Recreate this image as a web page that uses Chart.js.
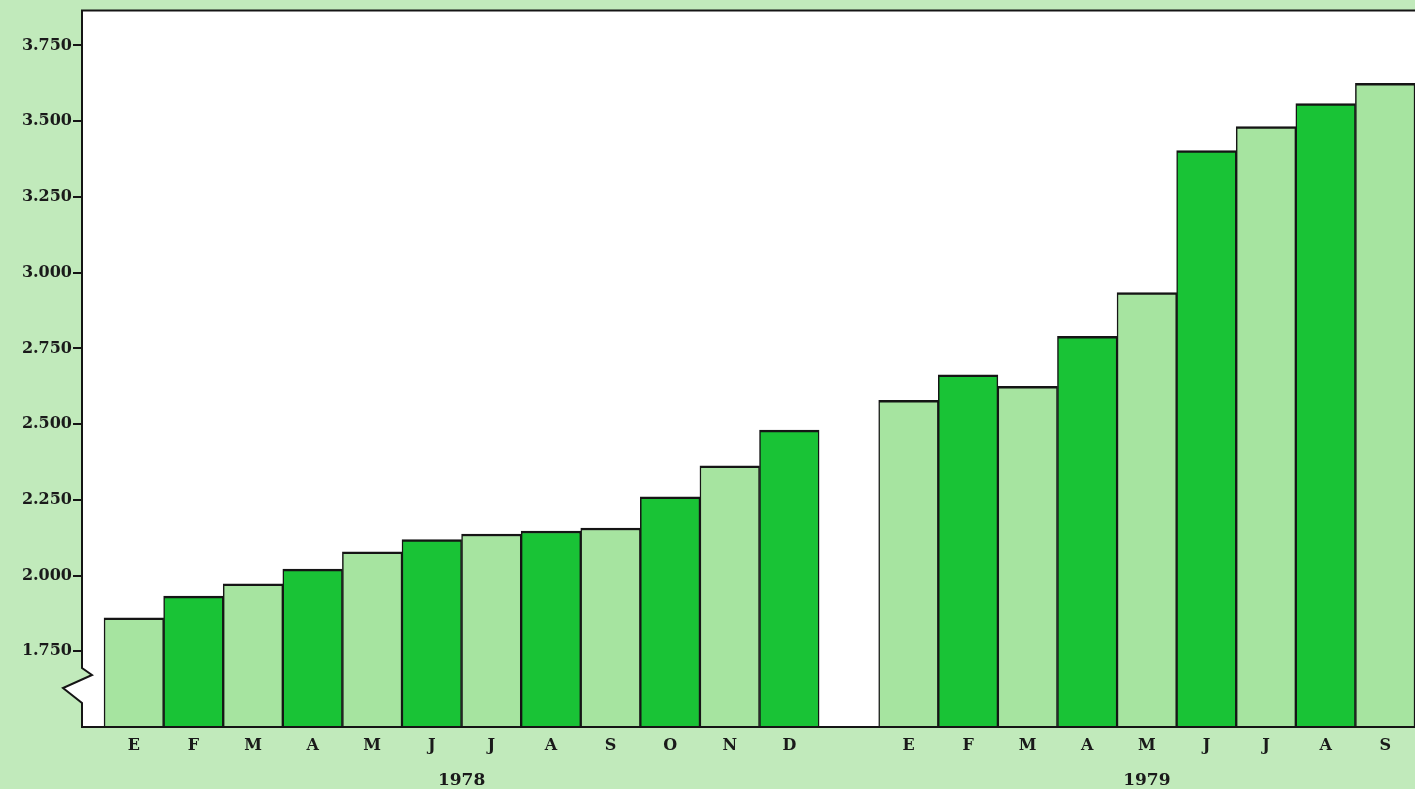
<!DOCTYPE html>
<html>
<head>
<meta charset="utf-8">
<script src="https://cdn.jsdelivr.net/npm/chart.js@4/dist/chart.umd.min.js"></script>
<style>
  html, body { margin: 0; padding: 0; background: #c1eabb; }
  #wrap { width: 1415px; height: 789px; position: relative; }
</style>
</head>
<body>
<div id="wrap"><canvas id="grafico"></canvas></div>
<script>
// datos
const meses1978 = ["E", "F", "M", "A", "M", "J", "J", "A", "S", "O", "N", "D"];
const valores1978 = [1860, 1932, 1973, 2021, 2078, 2119, 2137, 2147, 2157, 2260, 2362, 2480];
const meses1979 = ["E", "F", "M", "A", "M", "J", "J", "A", "S"];
const valores1979 = [2578, 2663, 2625, 2790, 2934, 3403, 3482, 3558, 3625];
const anios = ["1978", "1979"];
const ticksY = [1750, 2000, 2250, 2500, 2750, 3000, 3250, 3500, 3750];

const verdeClaro = "#a6e4a0";
const verdeOscuro = "#19c336";

// posiciones en el eje x: 1978 ocupa 0..11, hueco en 12, 1979 en 13..21
const etiquetas = {};
const puntos = [];
const colores = [];
meses1978.forEach((m, i) => {
  etiquetas[i] = m;
  puntos.push({ x: i, y: valores1978[i] });
  colores.push(i % 2 == 0 ? verdeClaro : verdeOscuro);
});
meses1979.forEach((m, i) => {
  etiquetas[13 + i] = m;
  puntos.push({ x: 13 + i, y: valores1979[i] });
  colores.push(i % 2 == 0 ? verdeClaro : verdeOscuro);
});
const centrosAnios = [(meses1978.length - 1) / 2, 13 + (meses1979.length - 1) / 2];

function formatoMiles(v) {
  return String(v).replace(/\B(?=(\d{3})+(?!\d))/g, ".");
}

// fondo blanco del area y marco con el corte del eje
const marco = {
  id: "marco",
  beforeDatasetsDraw(chart) {
    const { ctx, chartArea: a } = chart;
    ctx.save();
    ctx.fillStyle = "#ffffff";
    ctx.beginPath();
    ctx.moveTo(a.left, a.top);
    ctx.lineTo(a.right, a.top);
    ctx.lineTo(a.right, a.bottom);
    ctx.lineTo(a.left, a.bottom);
    ctx.lineTo(a.left, a.bottom - 24);
    ctx.lineTo(a.left - 19, a.bottom - 39);
    ctx.lineTo(a.left + 10, a.bottom - 52);
    ctx.lineTo(a.left, a.bottom - 59);
    ctx.closePath();
    ctx.fill();
    ctx.restore();
  },
  afterDatasetsDraw(chart) {
    const { ctx, chartArea: a } = chart;
    ctx.save();
    ctx.strokeStyle = "#151515";
    ctx.lineWidth = 2;
    ctx.lineJoin = "miter";
    ctx.beginPath();
    ctx.moveTo(a.right, a.top);
    ctx.lineTo(a.left, a.top);
    ctx.lineTo(a.left, a.bottom - 59);
    ctx.lineTo(a.left + 10, a.bottom - 52);
    ctx.lineTo(a.left - 19, a.bottom - 39);
    ctx.lineTo(a.left, a.bottom - 24);
    ctx.lineTo(a.left, a.bottom);
    ctx.lineTo(a.right, a.bottom);
    ctx.stroke();
    ctx.restore();
  }
};

const fuente = "'DejaVu Serif', 'Liberation Serif', serif";

const ctx = document.getElementById("grafico").getContext("2d");
let myChart = new Chart(ctx, {
  type: "bar",
  data: {
    datasets: [
      {
        data: puntos,
        backgroundColor: colores,
        borderColor: "#151515",
        borderWidth: { top: 2.5, left: 1.5, right: 1.5, bottom: 0 },
        borderSkipped: "start",
        barPercentage: 1,
        categoryPercentage: 1,
      },
    ],
  },
  options: {
    responsive: true,
    maintainAspectRatio: false,
    animation: false,
    layout: { padding: { top: 10, right: 0, left: 0, bottom: 0 } },
    plugins: {
      legend: { display: false },
      tooltip: { enabled: false },
    },
    scales: {
      x: {
        type: "linear",
        position: "bottom",
        offset: false,
        weight: 0,
        min: -0.87,
        max: 21.5,
        grid: { display: false, drawTicks: false, offset: false },
        border: { display: false },
        afterBuildTicks: (s) => {
          s.ticks = Object.keys(etiquetas).map((k) => ({ value: Number(k) }));
        },
        afterFit: (s) => { s.height = 35; },
        ticks: {
          autoSkip: false,
          maxRotation: 0,
          padding: 9,
          color: "#1a1a1a",
          font: { family: fuente, size: 16, weight: "bold" },
          callback: (v) => etiquetas[v] || "",
        },
      },
      anio: {
        type: "linear",
        position: "bottom",
        offset: false,
        weight: 1,
        min: -0.87,
        max: 21.5,
        grid: { display: false, drawTicks: false, offset: false },
        border: { display: false },
        afterBuildTicks: (s) => {
          s.ticks = centrosAnios.map((c) => ({ value: c }));
        },
        afterFit: (s) => { s.height = 27; },
        ticks: {
          autoSkip: false,
          maxRotation: 0,
          padding: 8,
          color: "#1a1a1a",
          font: { family: fuente, size: 17, weight: "bold" },
          callback: (v) => anios[centrosAnios.indexOf(v)] || "",
        },
      },
      y: {
        min: 1500,
        max: 3865,
        grid: {
          drawOnChartArea: false,
          drawTicks: true,
          tickLength: 9,
          color: "#151515",
          lineWidth: 2,
        },
        border: { display: false },
        afterBuildTicks: (s) => {
          s.ticks = ticksY.map((v) => ({ value: v }));
        },
        afterFit: (s) => { s.width = 82; },
        ticks: {
          padding: 1,
          color: "#1a1a1a",
          font: { family: fuente, size: 16, weight: "bold" },
          callback: (v) => formatoMiles(v),
        },
      },
    },
  },
  plugins: [marco],
});
</script>
</body>
</html>
